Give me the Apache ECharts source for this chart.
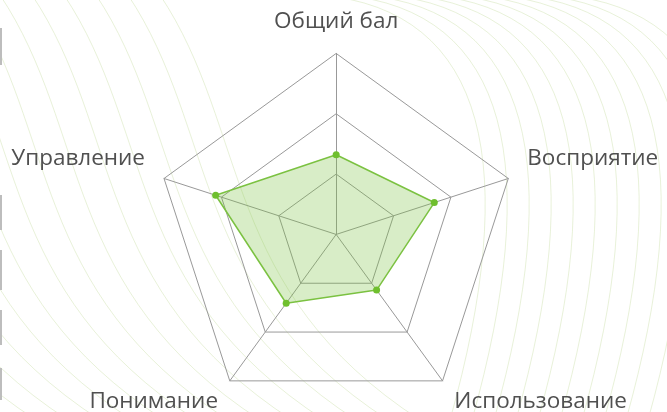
<!DOCTYPE html>
<html>
<head>
<meta charset="utf-8">
<script src="https://cdn.jsdelivr.net/npm/echarts@6/dist/echarts.min.js"></script>
<style>
html,body{margin:0;padding:0;background:#fff;}
#c{width:667px;height:412px;}
</style>
</head>
<body>
<div id="c"></div>
<script>
const indicators = ['Общий бал', 'Управление', 'Понимание', 'Использование', 'Восприятие'];
const indicatorMax = [100, 100, 100, 100, 100];
const values = [44, 70, 47, 38, 57];

const chart = echarts.init(document.getElementById('c'), null, {renderer: 'canvas'});

// decorative background contour lines (texture only)
const bg = [];
const lineStyle = {stroke: 'rgba(195,218,155,0.38)', lineWidth: 1, fill: null};
for (let i = 0; i < 16; i++) {
  const x0 = -320 + i * 32;
  bg.push({
    type: 'bezierCurve', silent: true, z: -10,
    shape: {x1: x0, y1: -5, cpx1: x0 + 90, cpy1: 130, cpx2: x0 + 60, cpy2: 290, x2: x0 + 260, y2: 420},
    style: lineStyle
  });
}
for (let i = 0; i < 12; i++) {
  const x0 = 380 + i * 22;
  bg.push({
    type: 'bezierCurve', silent: true, z: -10,
    shape: {x1: x0 - 60, y1: -5, cpx1: x0 + 110, cpy1: 10, cpx2: x0 + 140, cpy2: 170, x2: x0 + 70, y2: 420},
    style: lineStyle
  });
}
// left edge bars
[[28, 65], [195, 230], [250, 290], [310, 345], [368, 400]].forEach(function (r) {
  bg.push({type: 'rect', silent: true, shape: {x: 0, y: r[0], width: 2, height: r[1] - r[0]}, style: {fill: '#bdbdbd'}});
});

const labelKind = {'Общий бал': 't', 'Управление': 's', 'Восприятие': 's', 'Понимание': 'b', 'Использование': 'b'};

chart.setOption({
  backgroundColor: '#fff',
  graphic: bg,
  radar: {
    center: ['50.4%', '56.9%'],
    radius: 181,
    splitNumber: 3,
    startAngle: 90,
    shape: 'polygon',
    nameGap: 20,
    indicator: indicators.map(function (n, i) { return {name: n, max: indicatorMax[i]}; }),
    axisName: {
      color: '#505050', fontSize: 22.5, fontFamily: 'Open Sans',
      formatter: function (name) { return '{' + labelKind[name] + '|' + name + '}'; },
      rich: {
        t: {color: '#505050', fontSize: 22.5, fontFamily: 'Open Sans'},
        s: {color: '#505050', fontSize: 22.5, fontFamily: 'Open Sans', padding: [0, 0, 28, 0]},
        b: {color: '#505050', fontSize: 22.5, fontFamily: 'Open Sans', padding: [10, 0, 0, 0]}
      }
    },
    splitLine: {lineStyle: {color: '#999', width: 1}},
    splitArea: {show: false},
    axisLine: {lineStyle: {color: '#999', width: 1}}
  },
  series: [{
    type: 'radar',
    symbol: 'circle',
    symbolSize: 7,
    lineStyle: {color: '#7cc242', width: 1.5},
    itemStyle: {color: '#6fbf2e'},
    areaStyle: {color: 'rgba(124,194,66,0.42)'},
    data: [{value: values}]
  }]
});
</script>
</body>
</html>
